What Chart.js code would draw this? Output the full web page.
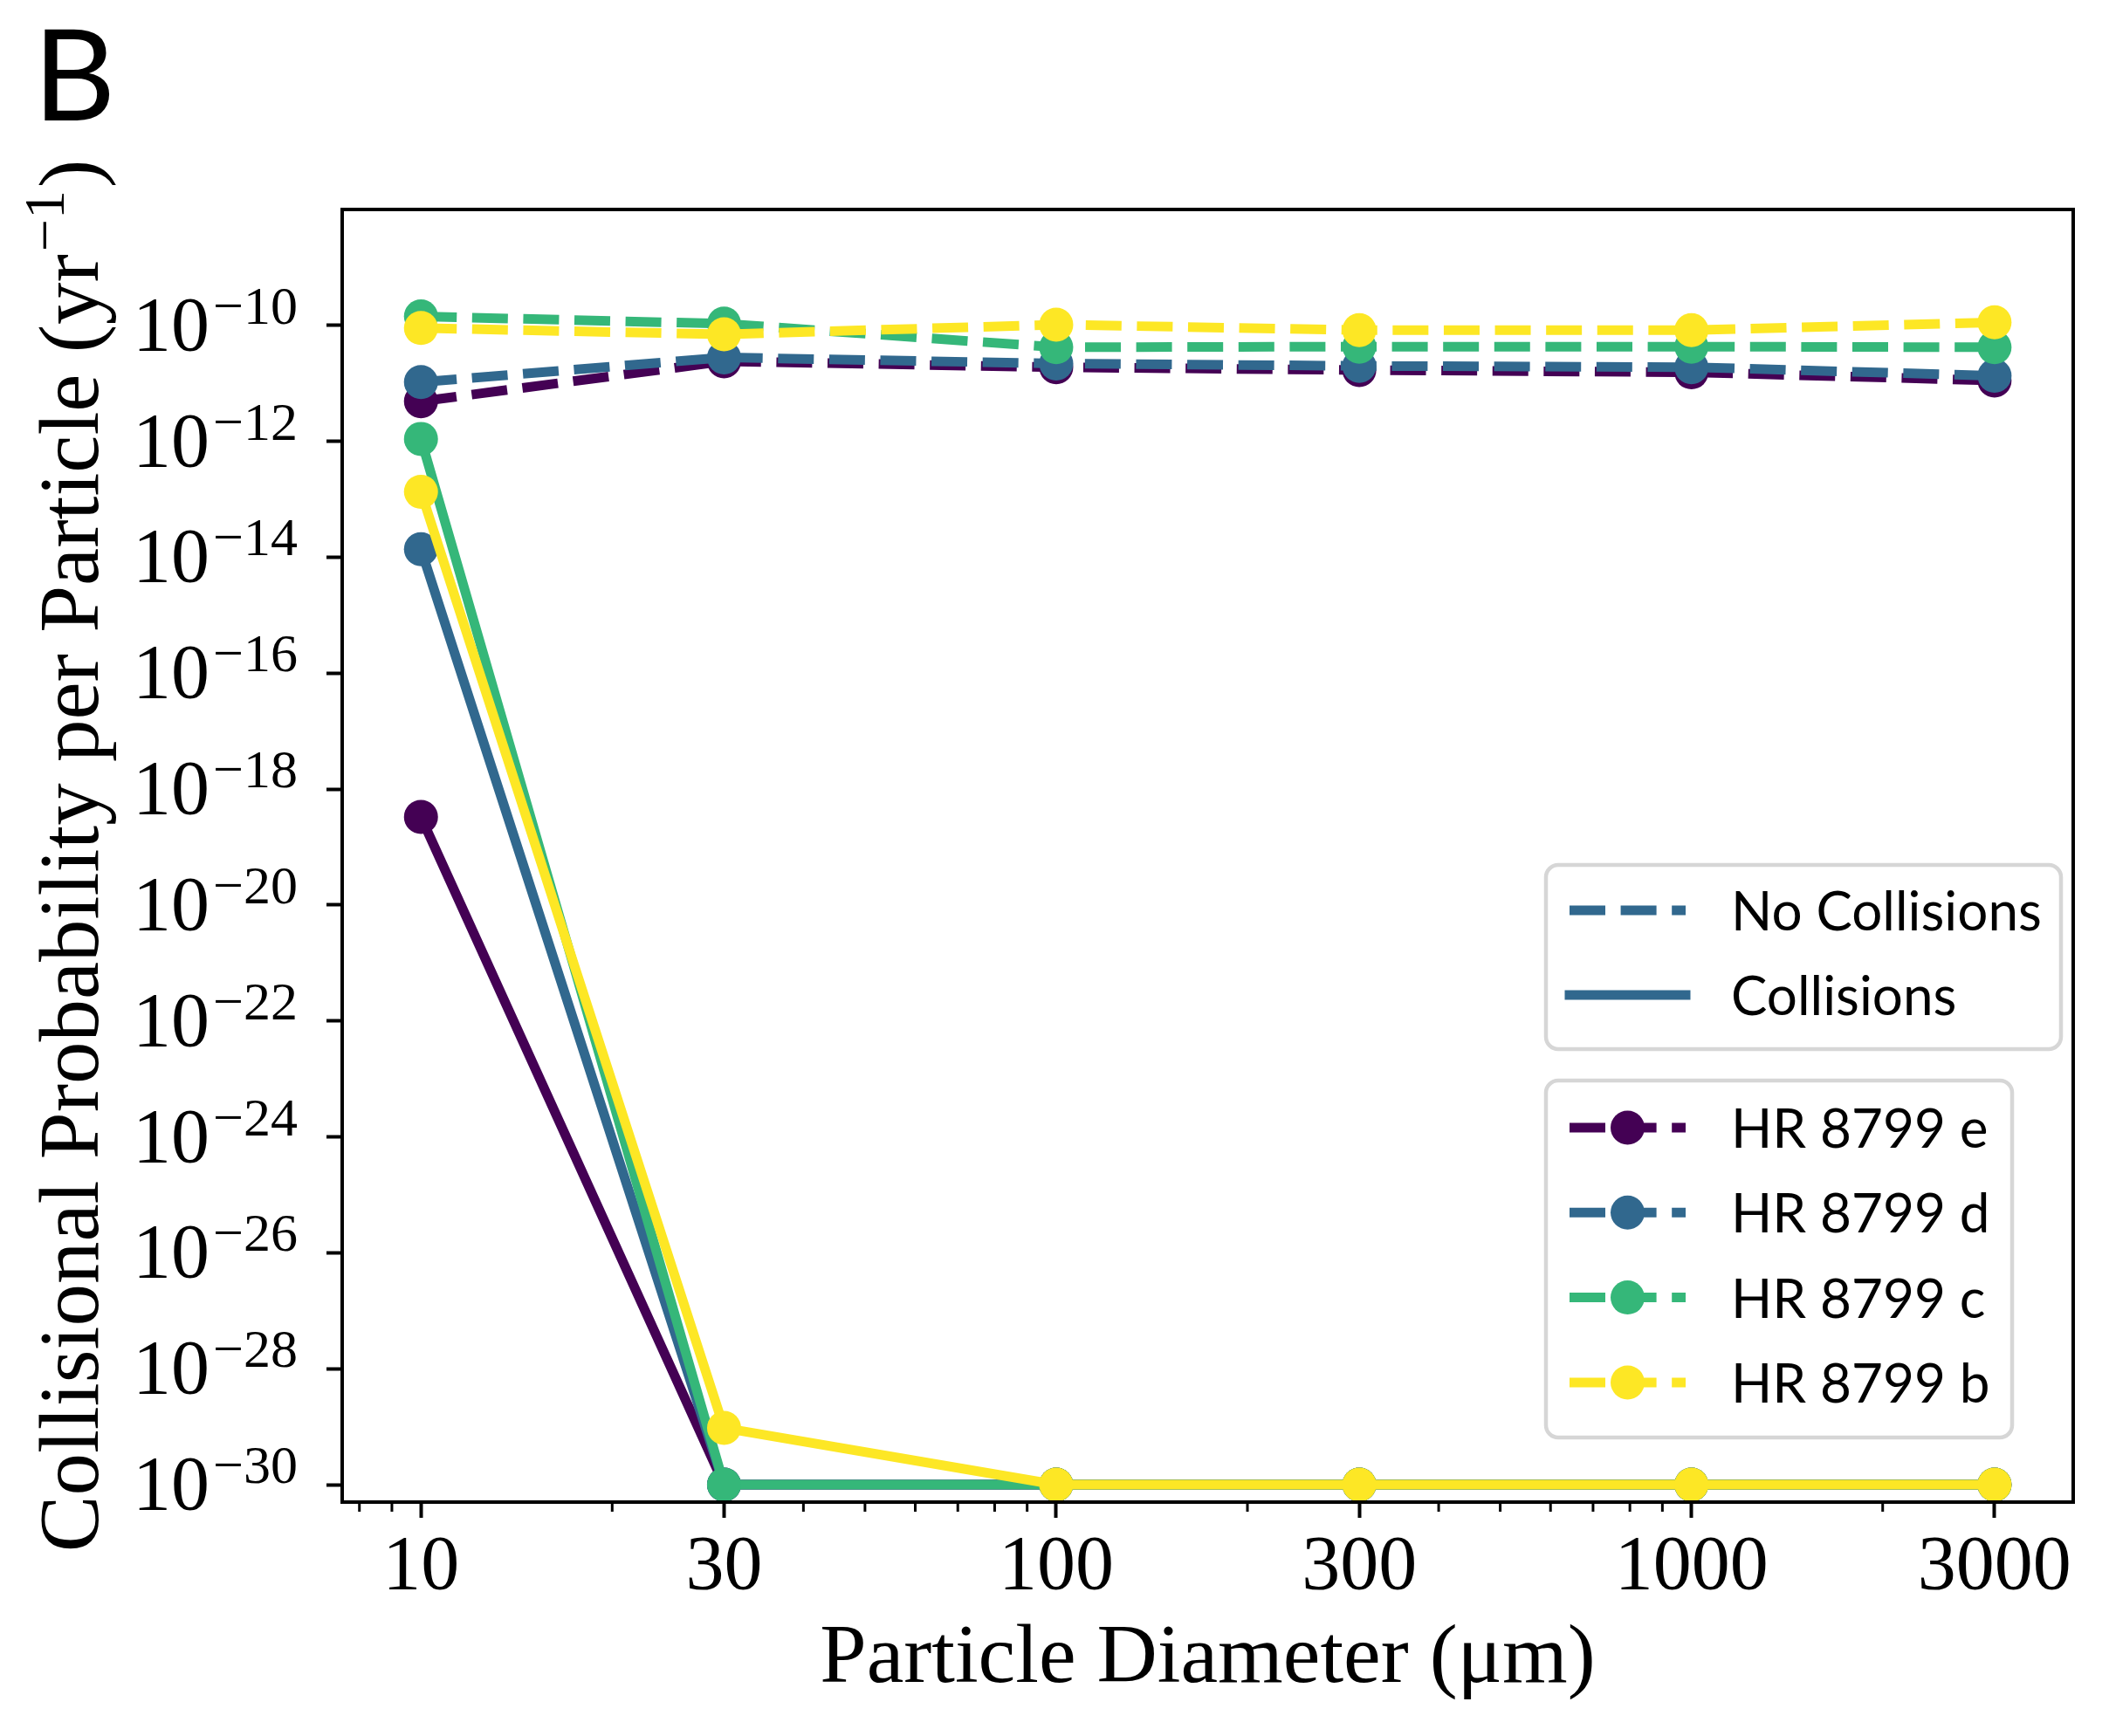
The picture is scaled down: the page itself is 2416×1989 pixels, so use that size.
<!DOCTYPE html>
<html>
<head>
<meta charset="utf-8">
<script src="https://cdn.jsdelivr.net/npm/chart.js@4.4.1/dist/chart.umd.min.js"></script>
<style>
  html, body { margin: 0; padding: 0; background: #fff; }
  canvas { display: block; }
</style>
</head>
<body>
<canvas id="chart" width="2416" height="1989"></canvas>
<script>
// particle diameters (um)
const diameters = [10, 30, 100, 300, 1000, 3000];

const planets = ["HR 8799 e", "HR 8799 d", "HR 8799 c", "HR 8799 b"];
const planetColors = ["#440154", "#31688e", "#35b779", "#fde725"];

// collisional probability per particle (1/yr), no collisions (dashed)
const noCollE = [4.9e-12, 2.4e-11, 1.9e-11, 1.7e-11, 1.55e-11, 1.12e-11];
const noCollD = [1.05e-11, 2.8e-11, 2.2e-11, 2.0e-11, 1.9e-11, 1.35e-11];
const noCollC = [1.43e-10, 1.07e-10, 4.2e-11, 4.3e-11, 4.3e-11, 4.2e-11];
const noCollB = [9.0e-11, 7.0e-11, 1.03e-10, 8.3e-11, 8.3e-11, 1.13e-10];

// with collisions (solid)
const collE = [3.3e-19, 1e-30, 1e-30, 1e-30, 1e-30, 1e-30];
const collD = [1.38e-14, 1e-30, 1e-30, 1e-30, 1e-30, 1e-30];
const collC = [1.1e-12, 1e-30, 1e-30, 1e-30, 1e-30, 1e-30];
const collB = [1.35e-13, 9.5e-30, 1e-30, 1e-30, 1e-30, 1e-30];

const xTickLabels = ["10", "30", "100", "300", "1000", "3000"];
const yTickExponents = [-30, -28, -26, -24, -22, -20, -18, -16, -14, -12, -10];
const styleLabels = ["No Collisions", "Collisions"];

const xTickValues = xTickLabels.map(Number);
const yTickValues = yTickExponents.map((e) => Math.pow(10, e));

const noColl = [noCollE, noCollD, noCollC, noCollB];
const coll = [collE, collD, collC, collB];

const serif = '"Liberation Serif", "DejaVu Serif", serif';
const sans = 'Lato, "Open Sans", sans-serif';
const dashPattern = [41, 17.6];

const makeSet = (label, values, color, dashed, order) => ({
  label: label,
  data: values.map((v, i) => ({ x: diameters[i], y: v })),
  borderColor: color,
  backgroundColor: color,
  borderWidth: 11,
  borderDash: dashed ? dashPattern : [],
  borderCapStyle: dashed ? "butt" : "square",
  borderJoinStyle: "round",
  pointRadius: 19.5,
  pointHoverRadius: 19.5,
  pointBorderWidth: 0,
  pointBackgroundColor: color,
  tension: 0,
  fill: false,
  order: order,
});

// later planets drawn on top, like the original
const datasets = [];
planets.forEach((name, i) => {
  datasets.push(makeSet(name + " no coll", noColl[i], planetColors[i], true, 8 - 2 * i));
  datasets.push(makeSet(name + " coll", coll[i], planetColors[i], false, 7 - 2 * i));
});

const drawBox = (ctx, x, y, w, h) => {
  ctx.save();
  ctx.beginPath();
  ctx.roundRect(x, y, w, h, 14);
  ctx.fillStyle = "rgba(255,255,255,0.8)";
  ctx.fill();
  ctx.lineWidth = 4.5;
  ctx.strokeStyle = "#d6d6d6";
  ctx.stroke();
  ctx.restore();
};

const drawHandle = (ctx, y, color, dashed, marker) => {
  ctx.save();
  ctx.strokeStyle = color;
  ctx.lineWidth = 11;
  ctx.setLineDash(dashed ? dashPattern : []);
  ctx.lineCap = dashed ? "butt" : "square";
  ctx.beginPath();
  ctx.moveTo(1798, y);
  ctx.lineTo(1931, y);
  ctx.stroke();
  if (marker) {
    ctx.setLineDash([]);
    ctx.fillStyle = color;
    ctx.beginPath();
    ctx.arc(1864.5, y, 19.5, 0, Math.PI * 2);
    ctx.fill();
  }
  ctx.restore();
};

const decorations = {
  id: "decorations",
  beforeDraw(chart) {
    const ctx = chart.ctx;
    ctx.save();
    ctx.fillStyle = "#fff";
    ctx.fillRect(0, 0, chart.width, chart.height);
    ctx.restore();
  },
  afterDraw(chart) {
    const { ctx, chartArea: area, scales } = chart;
    const xs = scales.x;
    const ys = scales.y;
    ctx.save();

    // frame
    ctx.strokeStyle = "#000";
    ctx.lineWidth = 4;
    ctx.strokeRect(area.left, area.top, area.right - area.left, area.bottom - area.top);

    // minor x ticks
    ctx.lineWidth = 3;
    [1, 10, 100, 1000].forEach((d) => {
      for (let k = 2; k <= 9; k++) {
        const v = k * d;
        if (v < xs.min || v > xs.max || xTickValues.includes(v)) continue;
        const px = xs.getPixelForValue(v);
        ctx.beginPath();
        ctx.moveTo(px, area.bottom);
        ctx.lineTo(px, area.bottom + 11);
        ctx.stroke();
      }
    });

    // tick labels
    ctx.fillStyle = "#000";
    ctx.textBaseline = "alphabetic";
    ctx.textAlign = "center";
    ctx.font = "88px " + serif;
    xTickValues.forEach((v, i) => {
      ctx.fillText(xTickLabels[i], xs.getPixelForValue(v), 1820);
    });

    yTickExponents.forEach((e, i) => {
      const py = ys.getPixelForValue(yTickValues[i]);
      const expText = "\u2212" + Math.abs(e);
      ctx.textAlign = "right";
      ctx.font = "62px " + serif;
      ctx.fillText(expText, 341, py - 2);
      const w = ctx.measureText(expText).width;
      ctx.font = "88px " + serif;
      ctx.fillText("10", 341 - w - 4, py + 28);
    });

    // axis titles
    ctx.textAlign = "center";
    ctx.font = "96px " + serif;
    ctx.fillText("Particle Diameter (\u03bcm)", (area.left + area.right) / 2, 1927);

    ctx.save();
    ctx.translate(112, (area.top + area.bottom) / 2);
    ctx.rotate(-Math.PI / 2);
    ctx.textAlign = "left";
    const main = "Collisional Probability per Particle (yr";
    const sup = "\u22121";
    ctx.font = "97px " + serif;
    const w1 = ctx.measureText(main).width;
    const w3 = ctx.measureText(")").width;
    ctx.font = "66px " + serif;
    const w2 = ctx.measureText(sup).width;
    const start = -(w1 + w2 + w3 + 6) / 2;
    ctx.font = "97px " + serif;
    ctx.fillText(main, start, 0);
    ctx.fillText(")", start + w1 + w2 + 6, 0);
    ctx.font = "66px " + serif;
    ctx.fillText(sup, start + w1 + 3, -39);
    ctx.restore();

    // panel letter
    ctx.textAlign = "left";
    ctx.font = "146px " + sans;
    ctx.fillText("B", 38, 138);

    // legend: line styles
    drawBox(ctx, 1771, 991, 2361 - 1771, 1202 - 991);
    ctx.font = "62px " + sans;
    styleLabels.forEach((label, i) => {
      const y = 1043 + i * 97;
      drawHandle(ctx, y, planetColors[1], i === 0, false);
      ctx.fillStyle = "#000";
      ctx.fillText(label, 1983, y + 23);
    });

    // legend: planets
    drawBox(ctx, 1771, 1238, 2305 - 1771, 1647 - 1238);
    planets.forEach((name, i) => {
      const y = 1292 + i * 97.3;
      drawHandle(ctx, y, planetColors[i], true, true);
      ctx.fillStyle = "#000";
      ctx.fillText(name, 1983, y + 23);
    });

    ctx.restore();
  },
};

new Chart(document.getElementById("chart"), {
  type: "line",
  data: { datasets: datasets },
  options: {
    responsive: false,
    animation: false,
    devicePixelRatio: 1,
    events: [],
    layout: { padding: { top: 240, right: 41, bottom: 0, left: 0 } },
    plugins: {
      legend: { display: false },
      tooltip: { enabled: false },
    },
    scales: {
      x: {
        type: "logarithmic",
        min: 7.516,
        max: 3990,
        afterBuildTicks: (scale) => {
          scale.ticks = xTickValues.map((v) => ({ value: v }));
        },
        afterFit: (scale) => {
          scale.height = 268;
        },
        ticks: { display: false },
        border: { display: false },
        grid: {
          display: true,
          drawOnChartArea: false,
          drawTicks: true,
          tickLength: 18,
          tickWidth: 4,
          tickColor: "#000",
        },
      },
      y: {
        type: "logarithmic",
        min: 5e-31,
        max: 1e-8,
        afterBuildTicks: (scale) => {
          scale.ticks = yTickValues.map((v) => ({ value: v }));
        },
        afterFit: (scale) => {
          scale.width = 392;
        },
        ticks: { display: false },
        border: { display: false },
        grid: {
          display: true,
          drawOnChartArea: false,
          drawTicks: true,
          tickLength: 18,
          tickWidth: 4,
          tickColor: "#000",
        },
      },
    },
  },
  plugins: [decorations],
});
</script>
</body>
</html>
